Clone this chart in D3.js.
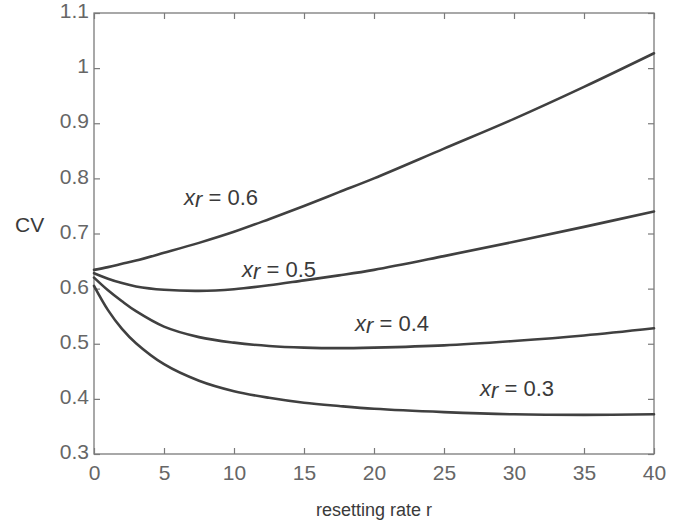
<!DOCTYPE html>
<html><head><meta charset="utf-8">
<script src="https://cdn.jsdelivr.net/npm/d3@7"></script>
<style>body{margin:0;background:#fff}svg{display:block}</style>
</head><body>
<script>
const rVals = [0, 1, 2, 3, 5, 7.5, 10, 12.5, 15, 17.5, 20, 25, 30, 35, 40];
const cv06 = [0.634, 0.639, 0.645, 0.651, 0.665, 0.683, 0.703, 0.726, 0.750, 0.775, 0.800, 0.854, 0.908, 0.966, 1.027];
const cv05 = [0.628, 0.618, 0.610, 0.604, 0.598, 0.596, 0.599, 0.606, 0.615, 0.624, 0.634, 0.659, 0.685, 0.712, 0.740];
const cv04 = [0.620, 0.597, 0.577, 0.559, 0.531, 0.512, 0.502, 0.496, 0.493, 0.492, 0.493, 0.497, 0.505, 0.515, 0.528];
const cv03 = [0.605, 0.561, 0.527, 0.501, 0.463, 0.433, 0.414, 0.402, 0.393, 0.387, 0.382, 0.376, 0.372, 0.371, 0.372];
const seriesNames = ["0.6", "0.5", "0.4", "0.3"];
const seriesVals = [cv06, cv05, cv04, cv03];
const xTicks = [0, 5, 10, 15, 20, 25, 30, 35, 40];
const yTicks = [0.3, 0.4, 0.5, 0.6, 0.7, 0.8, 0.9, 1, 1.1];

const W = 688, H = 526;
const m = {l: 94, r: 688 - 654, t: 13, b: 526 - 454};
const svg = d3.select("body").append("svg").attr("width", W).attr("height", H)
  .style("font-family", "'Liberation Sans', Arial, Helvetica, sans-serif");
const x = d3.scaleLinear().domain([0, 40]).range([m.l, W - m.r]);
const y = d3.scaleLinear().domain([0.3, 1.1]).range([H - m.b, m.t]);
const axisCol = "#7a7a7a", tickTextCol = "#666", lineCol = "#404040";

const g = svg.append("g");
g.append("rect").attr("x", x(0)).attr("y", y(1.1)).attr("width", x(40) - x(0)).attr("height", y(0.3) - y(1.1))
  .attr("fill", "none").attr("stroke", axisCol).attr("stroke-width", 1.3);

function styleAxis(sel) {
  sel.select(".domain").remove();
  sel.selectAll(".tick line").attr("stroke", axisCol).attr("stroke-width", 1.2);
  sel.selectAll(".tick text").attr("fill", tickTextCol).style("font-size", "21px");
}
const xb = g.append("g").attr("transform", `translate(0,${y(0.3)})`)
  .call(d3.axisBottom(x).tickValues(xTicks).tickSize(-6).tickPadding(11).tickFormat(d3.format("d")));
styleAxis(xb);
const xt = g.append("g").attr("transform", `translate(0,${y(1.1)})`)
  .call(d3.axisTop(x).tickValues(xTicks).tickSize(-6).tickFormat(""));
styleAxis(xt);
const yl = g.append("g").attr("transform", `translate(${x(0)},0)`)
  .call(d3.axisLeft(y).tickValues(yTicks).tickSize(-6).tickPadding(5).tickFormat(d => d3.format("")(+d.toFixed(1))));
styleAxis(yl);
yl.selectAll(".tick text").attr("dy", "0.22em");
const yr = g.append("g").attr("transform", `translate(${x(40)},0)`)
  .call(d3.axisRight(y).tickValues(yTicks).tickSize(-6).tickFormat(""));
styleAxis(yr);

const line = d3.line().x((d, i) => x(rVals[i])).y(d => y(d)).curve(d3.curveCatmullRom.alpha(0.5));
seriesVals.forEach(vals => {
  g.append("path").datum(vals).attr("d", line).attr("fill", "none")
    .attr("stroke", lineCol).attr("stroke-width", 2.6).attr("stroke-linecap", "round");
});

const labelAnchors = [[184, 205], [242, 277], [355, 331], [480, 396]];
seriesNames.forEach((name, i) => {
  const t = g.append("text").attr("x", labelAnchors[i][0]).attr("y", labelAnchors[i][1])
    .attr("fill", "#3a3a3a").style("font-size", "22px");
  t.append("tspan").text("x").style("font-style", "italic");
  t.append("tspan").text("r").style("font-style", "italic").attr("dy", 2);
  t.append("tspan").text(" = " + name).attr("dy", -2);
});

g.append("text").attr("x", 15).attr("y", 232).attr("fill", "#3a3a3a").style("font-size", "21px").text("CV");
g.append("text").attr("x", (x(0) + x(40)) / 2).attr("y", 516).attr("text-anchor", "middle")
  .attr("fill", "#3a3a3a").style("font-size", "18px").text("resetting rate r");
</script>
</body></html>
